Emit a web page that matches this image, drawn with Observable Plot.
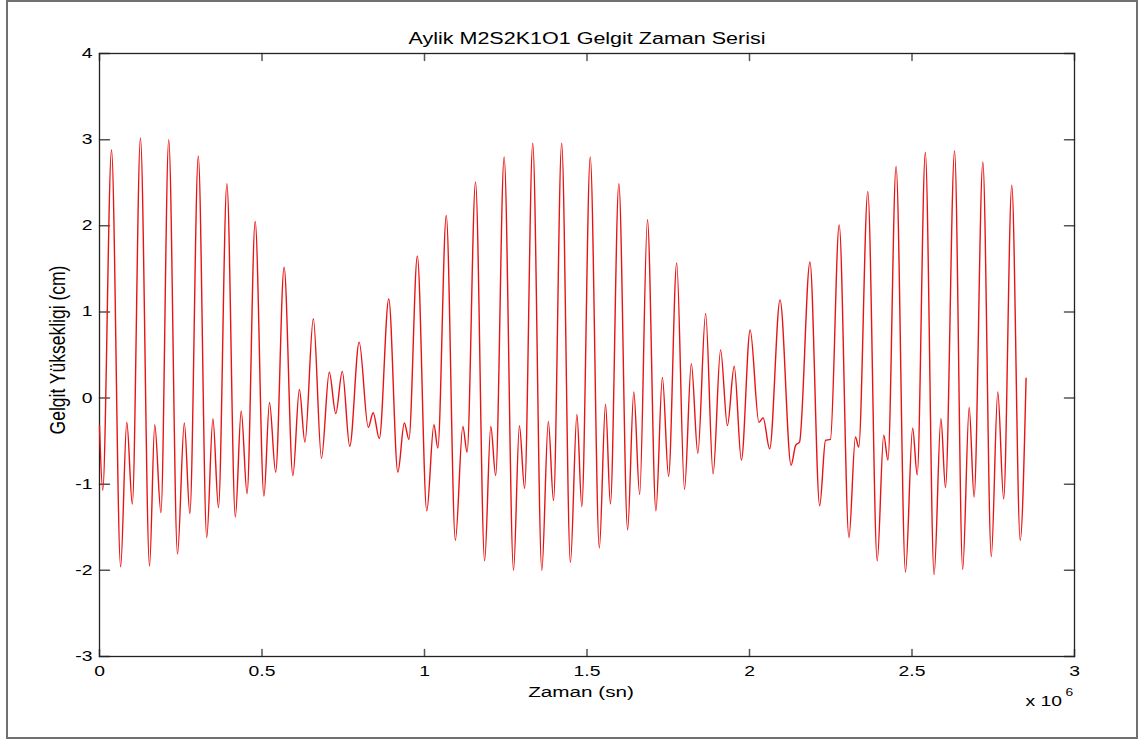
<!DOCTYPE html>
<html>
<head>
<meta charset="utf-8">
<script src="https://cdn.jsdelivr.net/npm/d3@7"></script>
<script src="https://cdn.jsdelivr.net/npm/@observablehq/plot@0.6"></script>
<style>
  body { margin: 0; background: #fff; }
  #wrap { position: relative; width: 1147px; height: 740px; overflow: hidden; }
  #border { position: absolute; left: 6px; top: 0px; width: 1132px; height: 739px; box-sizing: border-box;
            border: 2px solid #707070; pointer-events: none; }
</style>
</head>
<body>
<div id="wrap"><div id="border"></div></div>
<script>
// Zaman (x 10^6 sn) — time of each turning point
const zaman = [
  0, 0.010, 0.037, 0.065, 0.084, 0.101, 0.126, 0.154, 0.170, 0.189,
  0.213, 0.240, 0.261, 0.278, 0.304, 0.330, 0.349, 0.366, 0.392, 0.418,
  0.436, 0.454, 0.479, 0.506, 0.523, 0.542, 0.568,
  0.595, 0.615, 0.632, 0.658, 0.683, 0.707, 0.727, 0.747, 0.770, 0.799,
  0.827, 0.842, 0.861, 0.890, 0.918, 0.938, 0.952, 0.978, 1.007, 1.029,
  1.041, 1.067, 1.095, 1.118, 1.131,
  1.157, 1.185, 1.204, 1.219, 1.245, 1.274, 1.292, 1.308, 1.333, 1.361,
  1.381, 1.397, 1.422, 1.449, 1.469, 1.484, 1.510, 1.538, 1.557, 1.572,
  1.598, 1.625, 1.644, 1.662, 1.686,
  1.712, 1.732, 1.751, 1.776, 1.800, 1.821, 1.841, 1.865, 1.888, 1.911,
  1.932, 1.953, 1.975, 2.002, 2.029, 2.042, 2.062, 2.094, 2.128, 2.142,
  2.154, 2.186, 2.216, 2.234, 2.249, 2.276,
  2.306, 2.326, 2.336, 2.364, 2.393, 2.413, 2.426, 2.451, 2.480, 2.502,
  2.516, 2.541, 2.568, 2.589, 2.603, 2.631, 2.656, 2.676, 2.691, 2.718,
  2.744, 2.764, 2.782, 2.807, 2.833, 2.851
];
// Gelgit yüksekligi (cm)
const yukseklik = [
  -0.32, -1.07, 2.88, -1.96, -0.28, -1.23, 3.02, -1.95, -0.31, -1.33,
  3.00, -1.81, -0.29, -1.34, 2.81, -1.62, -0.24, -1.27, 2.49, -1.38,
  -0.15, -1.11, 2.05, -1.14, -0.05, -0.86, 1.52,
  -0.90, 0.10, -0.51, 0.92, -0.70, 0.30, -0.18, 0.31, -0.56, 0.65,
  -0.34, -0.17, -0.47, 1.15, -0.86, -0.29, -0.48, 1.65, -1.31, -0.31,
  -0.58, 2.12, -1.65, -0.33, -0.63,
  2.51, -1.89, -0.33, -0.90, 2.80, -2.00, -0.32, -1.05, 2.96, -2.00,
  -0.27, -1.19, 2.96, -1.91, -0.19, -1.26, 2.80, -1.74, -0.07, -1.23,
  2.49, -1.53, 0.07, -1.12, 2.07,
  -1.31, 0.24, -0.91, 1.57, -1.06, 0.40, -0.64, 0.98, -0.88, 0.56,
  -0.32, 0.37, -0.72, 0.79, -0.28, -0.23, -0.59, 1.14, -0.78, -0.55,
  -0.51, 1.58, -1.25, -0.49, -0.48, 2.01,
  -1.62, -0.45, -0.57, 2.40, -1.89, -0.43, -0.72, 2.69, -2.02, -0.35,
  -0.89, 2.85, -2.05, -0.24, -1.04, 2.87, -1.99, -0.11, -1.15, 2.74,
  -1.84, 0.07, -1.17, 2.47, -1.65, 0.23
];
const xTicks = [0, 0.5, 1, 1.5, 2, 2.5, 3];
const yTicks = [-3, -2, -1, 0, 1, 2, 3, 4];
const title = "Aylik M2S2K1O1 Gelgit Zaman Serisi";
const xLabel = "Zaman (sn)";
const yLabel = "Gelgit Yüksekligi (cm)";
const xExpBase = "x 10";
const xExp = "6";

const data = zaman.map((t, i) => ({t, h: yukseklik[i]}));
const font = "'Liberation Sans', Arial, Helvetica, sans-serif";
const tickShape = {draw(ctx, l) { ctx.moveTo(0, 0); ctx.lineTo(0, -l); }};
const tickColor = "#555";

const chart = Plot.plot({
  width: 1147, height: 740,
  marginTop: 53, marginLeft: 99, marginRight: 73, marginBottom: 84,
  style: {fontFamily: font, color: "#000", background: "transparent", overflow: "visible"},
  x: {domain: [0, 3]},
  y: {domain: [-3, 4]},
  marks: [
    Plot.axisX(xTicks, {tickSize: 0, tickPadding: 10, tickFormat: d => String(d), label: null, fontSize: 14}),
    Plot.axisY(yTicks, {tickSize: 0, tickPadding: 7, tickFormat: d => String(d), label: null, fontSize: 14}),
    Plot.vector(xTicks, {x: d => d, y: -3, length: 7, rotate: 0, anchor: "start", shape: tickShape, stroke: tickColor}),
    Plot.vector(xTicks, {x: d => d, y: 4, length: 7, rotate: 180, anchor: "start", shape: tickShape, stroke: tickColor}),
    Plot.vector(yTicks, {x: 0, y: d => d, length: 10, rotate: 90, anchor: "start", shape: tickShape, stroke: tickColor}),
    Plot.vector(yTicks, {x: 3, y: d => d, length: 10, rotate: -90, anchor: "start", shape: tickShape, stroke: tickColor}),
    Plot.frame({stroke: "#222", strokeWidth: 1.3}),
    Plot.line(data, {x: "t", y: "h", stroke: "#e81414", strokeWidth: 1.4, curve: "monotone-x"}),
    Plot.text([title], {text: d => d, frameAnchor: "top", lineAnchor: "bottom", dy: -10, fontSize: 15.6}),
    Plot.text([xLabel], {text: d => d, frameAnchor: "bottom", lineAnchor: "bottom", dx: -6, dy: 40, fontSize: 15}),
    Plot.text([yLabel], {text: d => d, frameAnchor: "left", textAnchor: "middle", rotate: -90, lineAnchor: "middle", dx: -42, dy: -5, fontSize: 17.5}),
    Plot.text([xExpBase], {text: d => d, frameAnchor: "bottom-right", textAnchor: "start", lineAnchor: "bottom", dx: -49, dy: 49, fontSize: 14}),
    Plot.text([xExp], {text: d => d, frameAnchor: "bottom-right", textAnchor: "start", lineAnchor: "bottom", dx: -9, dy: 39, fontSize: 10})
  ]
});

// the reference image is horizontally stretched; stretch the glyphs the same way
d3.select(chart).selectAll("text").each(function () {
  const tr = this.getAttribute("transform") || "";
  if (/rotate/.test(tr)) this.setAttribute("transform", tr + " scale(1,1.25)");
  else if (/translate/.test(tr)) this.setAttribute("transform", tr + " scale(1.38,1)");
});

document.getElementById("wrap").appendChild(chart);
</script>
</body>
</html>
